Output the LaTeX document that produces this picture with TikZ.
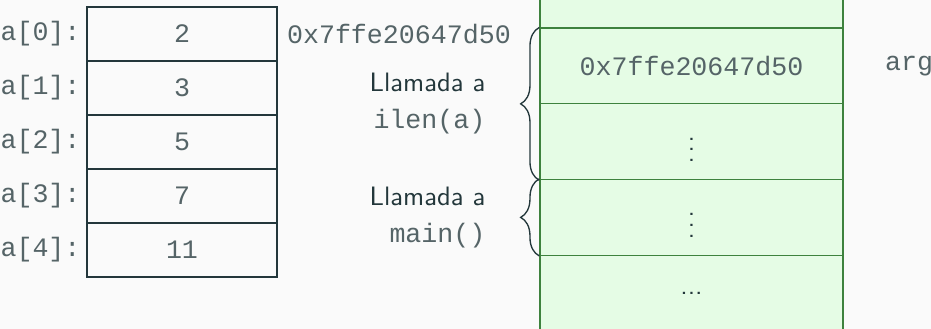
\documentclass[tikz,border=0pt]{standalone}
\usepackage{fontspec}
\setmonofont{Liberation Mono}
\usetikzlibrary{positioning,decorations.pathreplacing}

\definecolor{slate}{RGB}{35,55,59}
\definecolor{gristt}{RGB}{85,100,103}
\definecolor{fondo}{RGB}{250,250,250}
\definecolor{verdeclaro}{RGB}{229,252,229}
\definecolor{verdeosc}{RGB}{62,130,62}

\tikzset{
  cell/.style={draw=slate, line width=0.5pt, minimum width=2.508cm, minimum height=0.713cm, inner sep=0pt, text=gristt, font=\fontsize{10}{13.9}\selectfont\ttfamily},
  slot/.style={draw=verdeosc, fill=verdeclaro, line width=0.5pt, minimum width=4cm, minimum height=1cm, inner sep=0pt, font=\fontsize{10}{13.9}\selectfont\sffamily},
  idx/.style={inner sep=2pt, text=gristt, font=\fontsize{10}{13.9}\selectfont\ttfamily},
  llave/.style={decorate, decoration={brace, amplitude=7pt}, draw=slate, line width=0.5pt},
  rotulo/.style={inner sep=0pt, align=right, font=\fontsize{10}{13.9}\selectfont\sffamily},
}

\begin{document}
\begin{tikzpicture}[x=0.0132cm, y=-0.0132cm, text=slate]
\clip (0,0) rectangle (931,329);
\fill[fondo] (0,0) rectangle (931,329);
% arreglo a
\node[cell] (a0) at (182,34) {2};
\node[cell] (a1) at (182,88) {3};
\node[cell] (a2) at (182,142) {5};
\node[cell] (a3) at (182,196) {7};
\node[cell] (a4) at (182,250) {11};
\node[idx, left=0pt of a0] (l0) {a[0]:};
\node[idx, left=0pt of a1] (l1) {a[1]:};
\node[idx, left=0pt of a2] (l2) {a[2]:};
\node[idx, left=0pt of a3] (l3) {a[3]:};
\node[idx, left=0pt of a4] (l4) {a[4]:};
\node[idx, inner sep=3.33pt, right=0pt of a0] (dir) {0x7ffe20647d50};
% pila
\node[slot] (s0) at (691.5,-9.7) {};
\node[slot, text=gristt, font=\fontsize{10}{13.9}\selectfont\ttfamily] (s1) at (691.5,66) {0x7ffe20647d50};
\node[slot] (s2) at (691.5,141.7) {$\vdots$};
\node[slot] (s3) at (691.5,217.4) {$\vdots$};
\node[slot] (s4) at (691.5,293.1) {...};
\node[idx, inner sep=3.33pt, right=12pt of s1] (arg) {arg};
% llamadas
\draw[llave] (s2.south west) -- (s1.north west)
  node[rotulo, midway, left=20pt] (ilen) {Llamada a\\\textcolor{gristt}{\texttt{ilen(a)}}};
\draw[llave] (s3.south west) -- (s3.north west)
  node[rotulo, midway, left=20pt] (main) {Llamada a\\\textcolor{gristt}{\texttt{main()}}};
\end{tikzpicture}
\end{document}
